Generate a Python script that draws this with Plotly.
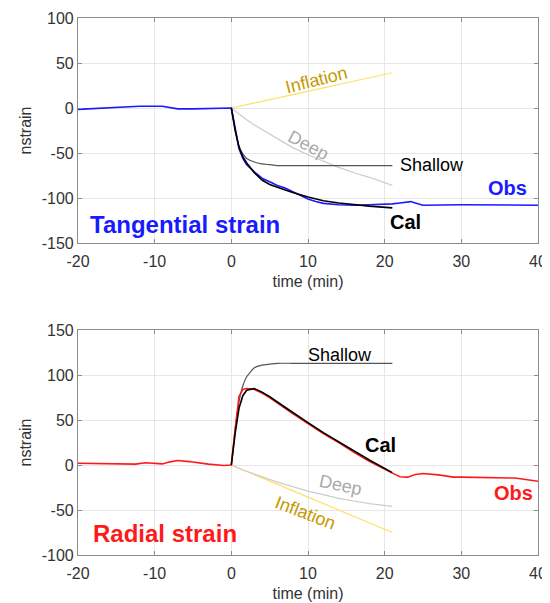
import plotly.graph_objects as go

# ---------------- data: tangential strain (top) ----------------
t_obs_tan = [-20, -16, -12, -9, -8, -7, -5, -3, -1, 0, 0.5, 1, 1.5, 2, 3, 4, 5, 6, 7, 8, 9, 10,
             11, 12, 14, 16, 18, 20, 21, 22, 23.4, 24, 25, 30, 35, 40]
v_obs_tan = [-1.5, 0, 2, 2, 0.5, -1, -1, -0.5, 0, 0, -22, -45, -56, -63, -71, -78, -82, -86, -89, -93, -97, -101,
             -104, -106, -107.5, -108, -107.5, -107, -106.5, -105.5, -104, -105.5, -108, -107.5, -108, -108]

t_mod = [0, 0.5, 1, 1.5, 2, 3, 4, 5, 6, 8, 10, 12, 14, 16, 18, 21]
v_cal_tan = [0, -25, -44, -54, -61, -72, -80, -85, -88, -94, -99, -103, -105.5, -107.5, -109, -111]
v_sha_tan = [0, -24, -42, -51, -56, -60, -62, -63, -64, -64, -64, -64, -64, -64, -64, -64]
v_dee_tan = [0, -3.5, -7, -10, -13, -19, -24, -29, -34, -44, -52, -59, -66, -72, -77, -86]
v_inf_tan = [0, 0.9, 1.9, 2.8, 3.7, 5.6, 7.5, 9.3, 11.2, 14.9, 18.7, 22.4, 26.1, 29.9, 33.6, 39.2]

# ---------------- data: radial strain (bottom) ----------------
t_obs_rad = [-20, -16, -14, -12.5, -11.2, -10, -9, -8, -7, -5.5, -4, -3, -1, 0, 0.5, 1, 1.5, 2, 3, 4, 5, 6,
             8, 10, 12, 14, 16, 18, 20, 21, 22, 23, 24, 25, 27, 29, 30, 33, 37, 40]
v_obs_rad = [2, 1.5, 2, 1, 2.5, 2, 1.2, 3.5, 5, 3.8, 2, 1, -0.5, 0, 40, 76, 84, 85, 84, 80, 75, 69,
             57, 46, 35, 25, 14, 4, -5, -9, -13, -13.5, -10.5, -9.5, -11, -13.5, -13.5, -14, -14.5, -18]

v_cal_rad = [0, 35, 63, 77, 83, 85, 81, 76, 70, 58, 47, 36, 26, 16, 5.5, -8.5]
v_sha_rad = [0, 40, 70, 88, 98, 108, 111, 112, 113, 113, 113, 113, 113, 113, 113, 113]
v_dee_rad = [0, -2, -4, -5.5, -7, -10, -13, -16, -19, -24, -29, -33, -37, -40, -43, -46]
v_inf_rad = [0, -1.8, -3.6, -5.4, -7.1, -10.7, -14.3, -17.9, -21.4, -28.6, -35.7, -42.9, -50, -57.1, -64.3, -75]

x_ticks = [-20, -10, 0, 10, 20, 30, 40]
y_ticks_top = [100, 50, 0, -50, -100, -150]
y_ticks_bot = [150, 100, 50, 0, -50, -100]

FONT = "Liberation Sans, Arial, Helvetica, sans-serif"
BLUE = "#1a1aff"
RED = "#ff1a1a"
GOLD = "#c49a00"
INF_LINE = "#ffe066"
DEEP_LINE = "#cccccc"
DEEP_TXT = "#aaaaaa"
SHA_LINE = "#555555"

fig = go.Figure()

def add_panel(xa, ya, t_obs, v_obs, cal, sha, dee, inf, obs_color):
    fig.add_trace(go.Scatter(x=t_mod, y=inf, mode="lines", line=dict(color=INF_LINE, width=1.2),
                             xaxis=xa, yaxis=ya, showlegend=False))
    fig.add_trace(go.Scatter(x=t_mod, y=dee, mode="lines", line=dict(color=DEEP_LINE, width=1.2),
                             xaxis=xa, yaxis=ya, showlegend=False))
    fig.add_trace(go.Scatter(x=t_mod, y=sha, mode="lines", line=dict(color=SHA_LINE, width=1.2, shape="spline", smoothing=0.6),
                             xaxis=xa, yaxis=ya, showlegend=False))
    fig.add_trace(go.Scatter(x=t_obs, y=v_obs, mode="lines", line=dict(color=obs_color, width=1.6),
                             xaxis=xa, yaxis=ya, showlegend=False))
    fig.add_trace(go.Scatter(x=t_mod, y=cal, mode="lines", line=dict(color="black", width=1.6),
                             xaxis=xa, yaxis=ya, showlegend=False))

add_panel("x", "y", t_obs_tan, v_obs_tan, v_cal_tan, v_sha_tan, v_dee_tan, v_inf_tan, BLUE)
add_panel("x2", "y2", t_obs_rad, v_obs_rad, v_cal_rad, v_sha_rad, v_dee_rad, v_inf_rad, RED)

axis_common = dict(
    showgrid=True, gridcolor="#e6e6e6", gridwidth=1,
    showline=True, linecolor="#8c8c8c", linewidth=1.2, mirror="ticks",
    ticks="inside", ticklen=4, tickcolor="#8c8c8c",
    zeroline=False, automargin=False,
    tickfont=dict(family=FONT, size=16, color="#333333"),
)
title_font = dict(family=FONT, size=16, color="#333333")

def labels(vals):
    return [str(v) for v in vals]  # plain hyphen minus, as in the reference

top_dom = [(555 - 243) / 537, 1.0]
bot_dom = [0.0, 225 / 537]

fig.update_layout(
    width=542, height=595,
    margin=dict(l=70, r=12, t=10, b=48),
    paper_bgcolor="white", plot_bgcolor="white",
    font=dict(family=FONT, color="#333333"),
    xaxis=dict(axis_common, range=[-20, 40], tickvals=x_ticks, ticktext=labels(x_ticks), anchor="y",
               ticklabelstandoff=4, title=dict(text="time (min)", font=title_font, standoff=6)),
    yaxis=dict(axis_common, range=[-150, 100], tickvals=y_ticks_top, ticktext=labels(y_ticks_top),
               domain=top_dom, anchor="x", title=dict(text="nstrain", font=title_font, standoff=6)),
    xaxis2=dict(axis_common, range=[-20, 40], tickvals=x_ticks, ticktext=labels(x_ticks), anchor="y2",
                ticklabelstandoff=4, title=dict(text="time (min)", font=title_font, standoff=6)),
    yaxis2=dict(axis_common, range=[-100, 150], tickvals=y_ticks_bot, ticktext=labels(y_ticks_bot),
                domain=bot_dom, anchor="x2", title=dict(text="nstrain", font=title_font, standoff=6)),
)

def ann(xr, yr, x, y, text, color, size=17, bold=False, angle=0, xanchor="center"):
    fig.add_annotation(x=x, y=y, xref=xr, yref=yr, text=("<b>%s</b>" % text) if bold else text,
                       showarrow=False, textangle=angle, xanchor=xanchor, yanchor="middle",
                       font=dict(family=FONT, size=size, color=color))

# top panel labels
ann("x", "y", 11.1, 31, "Inflation", GOLD, size=18, angle=-14)
ann("x", "y", 10.0, -41, "Deep", DEEP_TXT, size=18, angle=28)
ann("x", "y", 21.8, -63.5, "Shallow", "black", size=18, xanchor="left")
ann("x", "y", 36.0, -89, "Obs", BLUE, size=20, bold=True)
ann("x", "y", 22.7, -127, "Cal", "black", size=20, bold=True)
ann("x", "y", -6.0, -129, "Tangential strain", BLUE, size=24, bold=True)

# bottom panel labels
ann("x2", "y2", 9.7, 122, "Shallow", "black", size=18, xanchor="left")
ann("x2", "y2", 19.5, 22, "Cal", "black", size=20, bold=True)
ann("x2", "y2", 14.2, -22, "Deep", DEEP_TXT, size=18, angle=12)
ann("x2", "y2", 9.7, -53, "Inflation", GOLD, size=18, angle=21)
ann("x2", "y2", 36.8, -31, "Obs", RED, size=20, bold=True)
ann("x2", "y2", -8.7, -75.6, "Radial strain", RED, size=24, bold=True)

fig.write_html("out.html")
